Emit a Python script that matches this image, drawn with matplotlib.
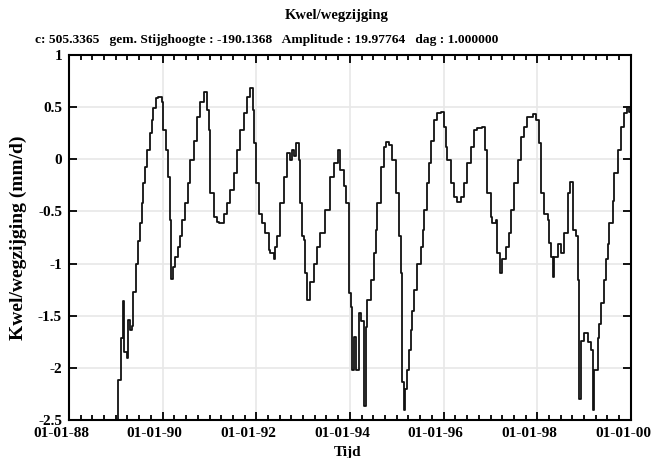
import matplotlib
matplotlib.use("Agg")
import matplotlib.pyplot as plt
import matplotlib.dates as mdates
import matplotlib.transforms as mtransforms
import numpy as np
import pandas as pd

plt.rcParams['font.family'] = ['Liberation Serif', 'DejaVu Serif']
plt.rcParams['font.weight'] = 'bold'

# time in years since 01-01-1988
t_years = [1.020, 1.055, 1.106, 1.149, 1.176, 1.234, 1.268, 1.305, 1.341, 1.375,
           1.433, 1.482, 1.519, 1.555, 1.589, 1.626, 1.662, 1.733, 1.769, 1.803,
           1.861, 1.910, 1.983, 2.017, 2.068, 2.124, 2.160, 2.182, 2.231, 2.267,
           2.317, 2.374, 2.411, 2.481, 2.531, 2.588, 2.659, 2.732, 2.802, 2.873,
           2.945, 2.980, 3.016, 3.087, 3.159, 3.209, 3.301, 3.373, 3.444, 3.514,
           3.587, 3.658, 3.728, 3.801, 3.872, 3.929, 3.957, 4.000, 4.049, 4.122,
           4.193, 4.263, 4.299, 4.370, 4.406, 4.443, 4.513, 4.584, 4.657, 4.727,
           4.764, 4.798, 4.849, 4.905, 4.941, 4.978, 5.012, 5.048, 5.084, 5.155,
           5.226, 5.298, 5.369, 5.476, 5.583, 5.654, 5.748, 5.797, 5.867, 5.925,
           5.974, 5.985, 6.011, 6.047, 6.081, 6.118, 6.188, 6.225, 6.295, 6.332,
           6.368, 6.439, 6.509, 6.545, 6.582, 6.652, 6.723, 6.759, 6.830, 6.903,
           6.973, 7.044, 7.080, 7.117, 7.151, 7.172, 7.224, 7.258, 7.294, 7.330,
           7.365, 7.422, 7.508, 7.566, 7.579, 7.651, 7.686, 7.722, 7.793, 7.865,
           7.936, 8.006, 8.043, 8.079, 8.150, 8.220, 8.293, 8.364, 8.434, 8.507,
           8.578, 8.648, 8.721, 8.828, 8.877, 8.935, 9.005, 9.042, 9.112, 9.149,
           9.204, 9.255, 9.326, 9.397, 9.433, 9.504, 9.577, 9.647, 9.718, 9.790,
           9.897, 9.968, 10.039, 10.075, 10.146, 10.218, 10.253, 10.289, 10.325, 10.360,
           10.432, 10.503, 10.573, 10.646, 10.702, 10.753, 10.824, 10.860, 10.894, 10.930,
           11.001, 11.074, 11.144, 11.181, 11.215, 11.288, 11.322, 11.358, 11.429, 11.465,
           11.501, 11.536, 11.608, 11.643, 11.715, 11.786, 11.857, 11.914, 11.964, 12.000]

kwel = [-2.55, -2.12, -1.71, -1.36, -1.85, -1.91, -1.54, -1.64, -1.60, -1.27,
        -1.00, -0.78, -0.61, -0.42, -0.23, -0.07, 0.09, 0.25, 0.38, 0.49,
        0.59, 0.60, 0.55, 0.28, 0.09, -0.17, -0.58, -1.15, -1.03, -0.94,
        -0.84, -0.74, -0.58, -0.42, -0.23, -0.01, 0.18, 0.41, 0.55, 0.65,
        0.47, 0.28, -0.32, -0.55, -0.60, -0.61, -0.52, -0.42, -0.29, -0.13,
        0.09, 0.28, 0.44, 0.60, 0.68, 0.47, 0.16, -0.23, -0.52, -0.61,
        -0.71, -0.87, -0.90, -0.96, -0.84, -0.74, -0.42, -0.17, 0.06, -0.01,
        0.09, 0.03, 0.16, -0.01, -0.42, -0.74, -0.77, -1.09, -1.35, -1.18,
        -1.00, -0.84, -0.71, -0.49, -0.17, -0.04, 0.09, -0.10, -0.26, -0.42,
        -0.68, -1.28, -1.42, -2.02, -1.70, -2.02, -1.47, -1.55, -2.37, -1.61,
        -1.35, -1.16, -0.90, -0.68, -0.42, -0.07, 0.12, 0.17, 0.14, -0.01,
        -0.32, -0.74, -1.09, -2.14, -2.40, -2.20, -2.02, -1.83, -1.64, -1.45,
        -1.25, -1.00, -0.84, -0.68, -0.49, -0.23, -0.04, 0.18, 0.38, 0.44,
        0.45, 0.31, 0.12, -0.01, -0.23, -0.36, -0.41, -0.36, -0.23, -0.04,
        0.12, 0.28, 0.30, 0.31, 0.09, -0.32, -0.55, -0.61, -0.58, -0.90,
        -1.09, -0.96, -0.84, -0.71, -0.49, -0.23, -0.01, 0.21, 0.31, 0.41,
        0.43, 0.38, 0.16, -0.32, -0.52, -0.58, -0.80, -0.94, -1.13, -0.94,
        -0.81, -0.90, -0.71, -0.32, -0.22, -0.68, -0.74, -1.16, -2.30, -1.74,
        -1.67, -1.75, -1.83, -2.40, -2.02, -1.71, -1.58, -1.38, -1.16, -0.96,
        -0.81, -0.61, -0.40, -0.13, 0.09, 0.31, 0.44, 0.50, 0.45, 0.12]

y_ticks = [-2.5, -2, -1.5, -1, -0.5, 0, 0.5, 1]
y_ticklabels = ['-2.5', '-2', '-1.5', '-1', '-0.5', '0', '0.5', '1']

title = 'Kwel/wegzijging'
subtitle = 'c: 505.3365   gem. Stijghoogte : -190.1368   Amplitude : 19.97764   dag : 1.000000'

start = pd.Timestamp('1988-01-01')
dates = [start + pd.Timedelta(days=t * 365.25) for t in t_years]

fig = plt.figure(figsize=(6.6, 4.58), dpi=100)
ax = fig.add_axes([69 / 660, 1 - 420 / 458, 562 / 660, 365 / 458])

ax.plot(dates, kwel, color='#111111', lw=1.3, drawstyle='steps-post')

ax.set_xlim(pd.Timestamp('1988-01-01'), pd.Timestamp('2000-01-01'))
ax.set_ylim(-2.5, 1)
ax.set_yticks(y_ticks)
ax.set_yticklabels(y_ticklabels)

ax.xaxis.set_major_locator(mdates.YearLocator(2))
ax.xaxis.set_minor_locator(mdates.MonthLocator(bymonth=[1, 4, 7, 10]))
ax.xaxis.set_major_formatter(mdates.DateFormatter('%d-%m-%y'))

ax.grid(True, which='major', color='#e8e8e8', lw=1.2)
ax.set_axisbelow(True)

ax.tick_params(which='both', direction='in', top=True, right=True, width=1.3,
               labelsize=11, colors='black')
ax.tick_params(which='major', length=6, pad=5)
ax.tick_params(which='minor', length=3.5)
ax.tick_params(axis='y', which='minor', left=False, right=False)
for s in ax.spines.values():
    s.set_linewidth(1.5)

# date labels sit a little left of their ticks in the original
shift = mtransforms.ScaledTranslation(-8 / 100, 0, fig.dpi_scale_trans)
for lab in ax.get_xticklabels():
    lab.set_transform(lab.get_transform() + shift)

ax.set_xlabel('Tijd', fontsize=11, fontweight='bold', labelpad=2)
ax.xaxis.set_label_coords(0.495, -0.072)
ax.set_ylabel('Kwel/wegzijging (mm/d)', fontsize=14, fontweight='bold')
ax.yaxis.set_label_coords(-0.075, 0.5)

fig.text(337 / 660, 1 - 15 / 458, title, ha='center', va='center', fontsize=10.5, fontweight='bold')
fig.text(35 / 660, 1 - 40 / 458, subtitle, ha='left', va='center', fontsize=9.7, fontweight='bold')

fig.savefig('out.png', dpi=100)
